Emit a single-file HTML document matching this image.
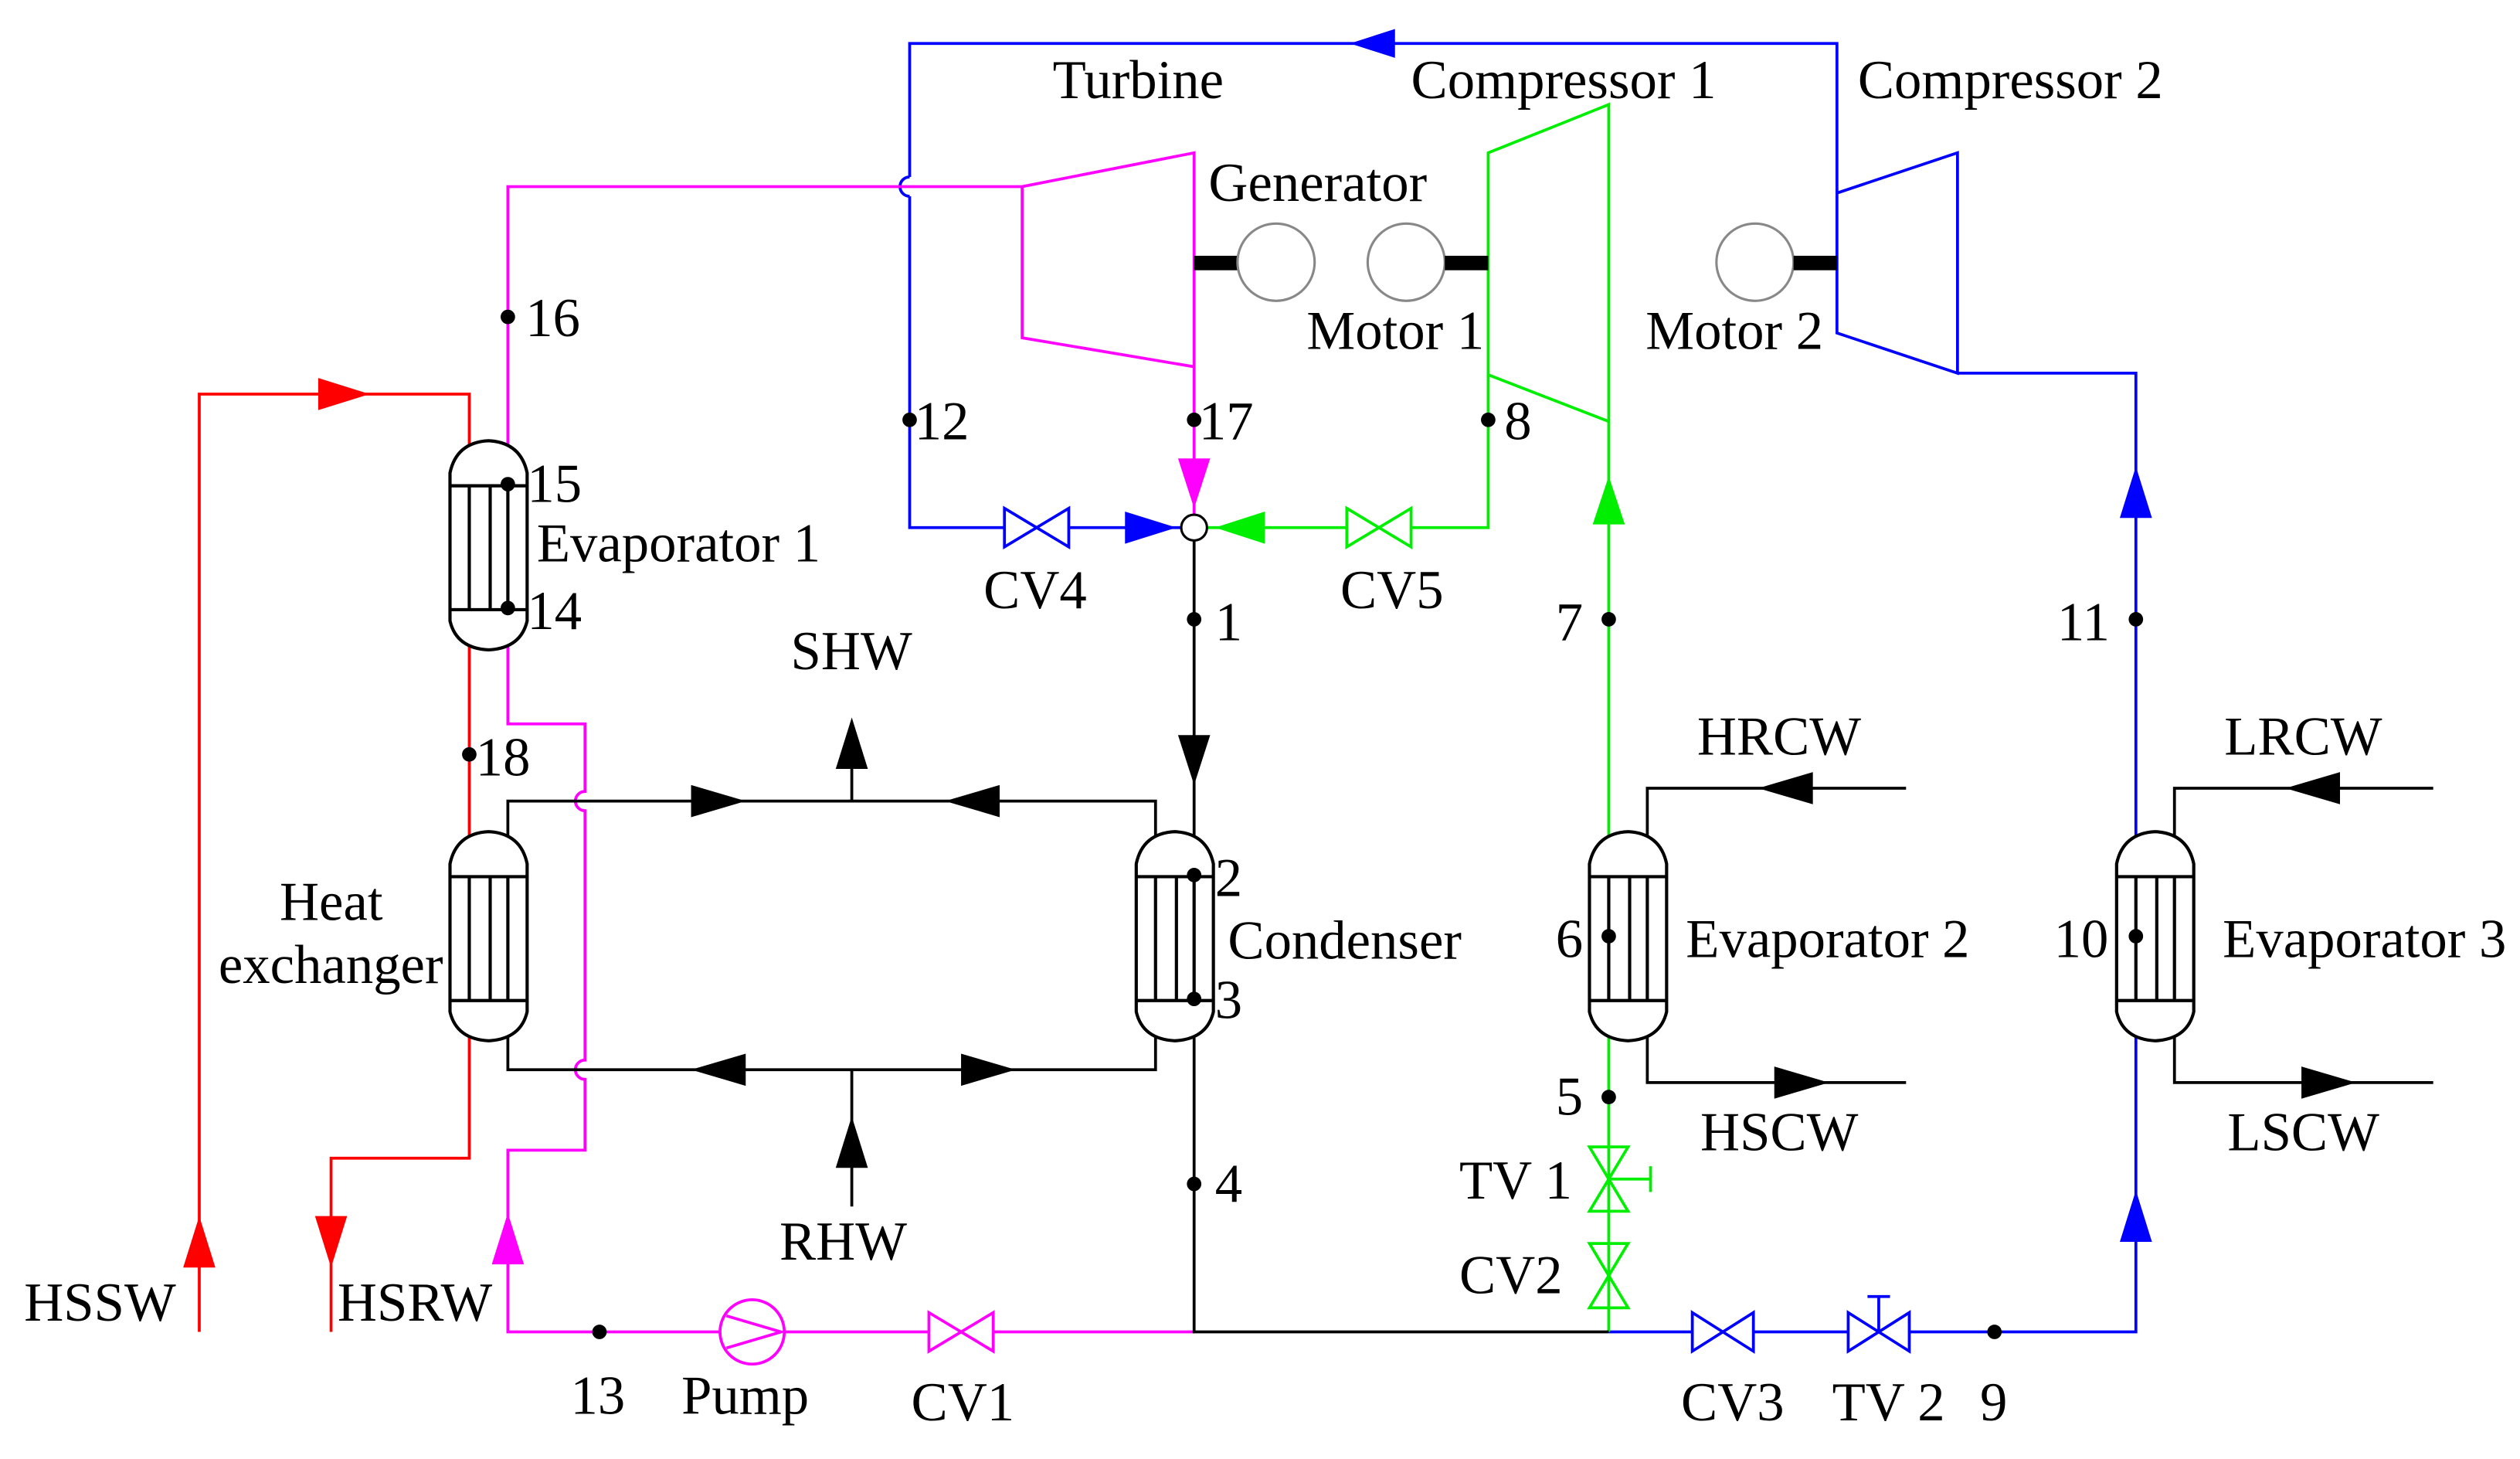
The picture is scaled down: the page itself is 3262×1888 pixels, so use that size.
<!DOCTYPE html>
<html><head><meta charset="utf-8"><style>
html,body{margin:0;padding:0;background:#fff}
svg{display:block}
text{font-family:"Liberation Serif",serif;font-size:34px;fill:#000}
</style></head><body>
<svg width="3262" height="1888" viewBox="0 0 1568 907" preserveAspectRatio="none" xmlns="http://www.w3.org/2000/svg">
<defs>
<g id="hx">
<path d="M-24,17 Q-20,-2 0,-3 Q20,-2 24,17 L24,109 Q20,126 0,127 Q-20,126 -24,109 Z" fill="#fff" stroke="#000" stroke-width="2"/>
<line x1="-24" y1="25" x2="24" y2="25" stroke="#000" stroke-width="2"/>
<line x1="-24" y1="102" x2="24" y2="102" stroke="#000" stroke-width="2"/>
<line x1="-12" y1="25" x2="-12" y2="102" stroke="#000" stroke-width="2"/>
<line x1="1" y1="25" x2="1" y2="102" stroke="#000" stroke-width="2"/>
<line x1="12" y1="25" x2="12" y2="102" stroke="#000" stroke-width="2"/>
</g>
</defs>
<g fill="none" stroke-width="1.8">
<!-- blue -->
<path d="M566,110 L566,27 L1143,27 L1143,120" stroke="#00f"/>
<path d="M566,122 L566,328 L625,328 M665,328 L735,328" stroke="#00f"/>
<path d="M566,110 A6,6 0 0 0 566,122" stroke="#00f"/>
<path d="M1143,120 L1218,95 L1218,232 L1143,207 Z" stroke="#00f"/>
<path d="M1218,232 L1329,232 L1329,828 L1188,828 M1150,828 L1091,828 M1053,828 L1001,828" stroke="#00f"/>
<!-- pink -->
<path d="M316,277 L316,116 L636,116 L743,95 L743,320 M636,116 L636,210 L743,228" stroke="#f0f"/>
<path d="M316,402 L316,450 L364,450 L364,492 A6,6 0 0 0 364,504 L364,659 A6,6 0 0 0 364,671 L364,715 L316,715 L316,828 L448,828 M488,828 L578,828 M618,828 L743,828" stroke="#f0f"/>
<!-- red -->
<path d="M124,828 L124,245 L292,245 L292,277 M292,402 L292,520 M292,645 L292,720 L206,720 L206,828" stroke="#f00"/>
<!-- green -->
<path d="M926,95 L1001,65 L1001,262 L926,233 Z" stroke="#0e0"/>
<path d="M926,233 L926,328 L878,328 M838,328 L751,328" stroke="#0e0"/>
<path d="M1001,262 L1001,520 M1001,645 L1001,828" stroke="#0e0"/>
<!-- black -->
<path d="M743,336 L743,520 M743,645 L743,828 L1001,828" stroke="#000"/>
<path d="M316,520 L316,498 L719,498 L719,520 M530,498 L530,452" stroke="#000"/>
<path d="M316,645 L316,665 L719,665 L719,645 M530,665 L530,750" stroke="#000"/>
<path d="M1025,520 L1025,490 L1186,490 M1025,645 L1025,673 L1186,673 M1353,520 L1353,490 L1514,490 M1353,645 L1353,673 L1514,673" stroke="#000"/>
</g>
<!-- heat exchangers -->
<use href="#hx" x="304" y="277"/>
<use href="#hx" x="304" y="520"/>
<use href="#hx" x="731" y="520"/>
<use href="#hx" x="1013" y="520"/>
<use href="#hx" x="1341" y="520"/>
<!-- shafts & circles -->
<g stroke="#888" stroke-width="1.5" fill="#fff">
<rect x="743" y="159" width="27" height="9" fill="#000" stroke="none"/>
<circle cx="794" cy="163" r="24"/>
<circle cx="875" cy="163" r="24"/>
<rect x="899" y="159" width="27" height="9" fill="#000" stroke="none"/>
<circle cx="1092" cy="163" r="24"/>
<rect x="1116" y="159" width="27" height="9" fill="#000" stroke="none"/>
</g>
<circle cx="743" cy="328" r="8" fill="#fff" stroke="#000" stroke-width="1.5"/>
<!-- valves -->
<g fill="none" stroke-width="1.8">
<path d="M625,316 L665,340 L665,316 L625,340 Z" stroke="#00f"/>
<path d="M838,316 L878,340 L878,316 L838,340 Z" stroke="#0e0"/>
<path d="M578,816 L618,840 L618,816 L578,840 Z" stroke="#f0f"/>
<path d="M1053,816 L1091,840 L1091,816 L1053,840 Z" stroke="#00f"/>
<path d="M1150,816 L1188,840 L1188,816 L1150,840 Z M1169,828 L1169,806 M1162,806 L1176,806" stroke="#00f"/>
<path d="M989,713 L1013,753 L989,753 L1013,713 Z M1001,733 L1027,733 M1027,725 L1027,741" stroke="#0e0"/>
<path d="M989,773 L1013,813 L989,813 L1013,773 Z" stroke="#0e0"/>
<circle cx="468" cy="828" r="20" stroke="#f0f"/>
<path d="M452,818 L486,828 L452,838" stroke="#f0f"/>
</g>
<!-- arrows -->
<g>
<polygon points="840,27 868,18 868,36" fill="#00f"/>
<polygon points="700,318 732,328 700,338" fill="#00f"/>
<polygon points="733,285 753,285 743,316" fill="#f0f"/>
<polygon points="787,318 756,328 787,338" fill="#0e0"/>
<polygon points="1001,296 991,326 1011,326" fill="#0e0"/>
<polygon points="1329,290 1319,322 1339,322" fill="#00f"/>
<polygon points="1329,740 1319,772 1339,772" fill="#00f"/>
<polygon points="733,457 753,457 743,488" fill="#000"/>
<polygon points="198,235 230,245 198,255" fill="#f00"/>
<polygon points="124,756 114,788 134,788" fill="#f00"/>
<polygon points="196,756 216,756 206,788" fill="#f00"/>
<polygon points="316,754 306,786 326,786" fill="#f0f"/>
<polygon points="430,488 464,498 430,508" fill="#000"/>
<polygon points="622,488 588,498 622,508" fill="#000"/>
<polygon points="530,446 520,478 540,478" fill="#000"/>
<polygon points="464,655 430,665 464,675" fill="#000"/>
<polygon points="598,655 632,665 598,675" fill="#000"/>
<polygon points="530,694 520,726 540,726" fill="#000"/>
<polygon points="1128,480 1094,490 1128,500" fill="#000"/>
<polygon points="1104,663 1138,673 1104,683" fill="#000"/>
<polygon points="1456,480 1422,490 1456,500" fill="#000"/>
<polygon points="1432,663 1466,673 1432,683" fill="#000"/>
</g>
<!-- dots -->
<g fill="#000">
<circle cx="316" cy="197" r="4.5"/><circle cx="566" cy="261" r="4.5"/><circle cx="743" cy="261" r="4.5"/>
<circle cx="926" cy="261" r="4.5"/><circle cx="316" cy="301" r="4.5"/><circle cx="316" cy="378" r="4.5"/>
<circle cx="743" cy="385" r="4.5"/><circle cx="1001" cy="385" r="4.5"/><circle cx="1329" cy="385" r="4.5"/>
<circle cx="292" cy="469" r="4.5"/><circle cx="743" cy="544" r="4.5"/><circle cx="743" cy="621" r="4.5"/>
<circle cx="1001" cy="582" r="4.5"/><circle cx="1329" cy="582" r="4.5"/><circle cx="1001" cy="682" r="4.5"/>
<circle cx="743" cy="736" r="4.5"/><circle cx="373" cy="828" r="4.5"/><circle cx="1241" cy="828" r="4.5"/>
</g>
<!-- labels -->
<g>
<text x="655" y="61">Turbine</text>
<text x="878" y="61">Compressor 1</text>
<text x="1156" y="61">Compressor 2</text>
<text x="752" y="125">Generator</text>
<text x="813" y="217">Motor 1</text>
<text x="1024" y="217">Motor 2</text>
<text x="327" y="209">16</text>
<text x="569" y="273">12</text>
<text x="746" y="273">17</text>
<text x="936" y="273">8</text>
<text x="328" y="312">15</text>
<text x="334" y="349">Evaporator 1</text>
<text x="328" y="391">14</text>
<text x="612" y="378">CV4</text>
<text x="834" y="378">CV5</text>
<text x="756" y="398">1</text>
<text x="968" y="398">7</text>
<text x="1280" y="398">11</text>
<text x="492" y="416">SHW</text>
<text x="296" y="482">18</text>
<text x="1056" y="469">HRCW</text>
<text x="1384" y="469">LRCW</text>
<text x="174" y="572">Heat</text>
<text x="136" y="611">exchanger</text>
<text x="756" y="557">2</text>
<text x="764" y="596">Condenser</text>
<text x="756" y="633">3</text>
<text x="968" y="595">6</text>
<text x="1049" y="595">Evaporator 2</text>
<text x="1278" y="595">10</text>
<text x="1383" y="595">Evaporator 3</text>
<text x="968" y="693">5</text>
<text x="1058" y="715">HSCW</text>
<text x="1386" y="715">LSCW</text>
<text x="908" y="745">TV 1</text>
<text x="756" y="747">4</text>
<text x="485" y="783">RHW</text>
<text x="908" y="804">CV2</text>
<text x="15" y="821">HSSW</text>
<text x="210" y="821">HSRW</text>
<text x="355" y="879">13</text>
<text x="424" y="879">Pump</text>
<text x="567" y="883">CV1</text>
<text x="1046" y="883">CV3</text>
<text x="1140" y="883">TV 2</text>
<text x="1232" y="883">9</text>
</g>
</svg>
</body></html>
